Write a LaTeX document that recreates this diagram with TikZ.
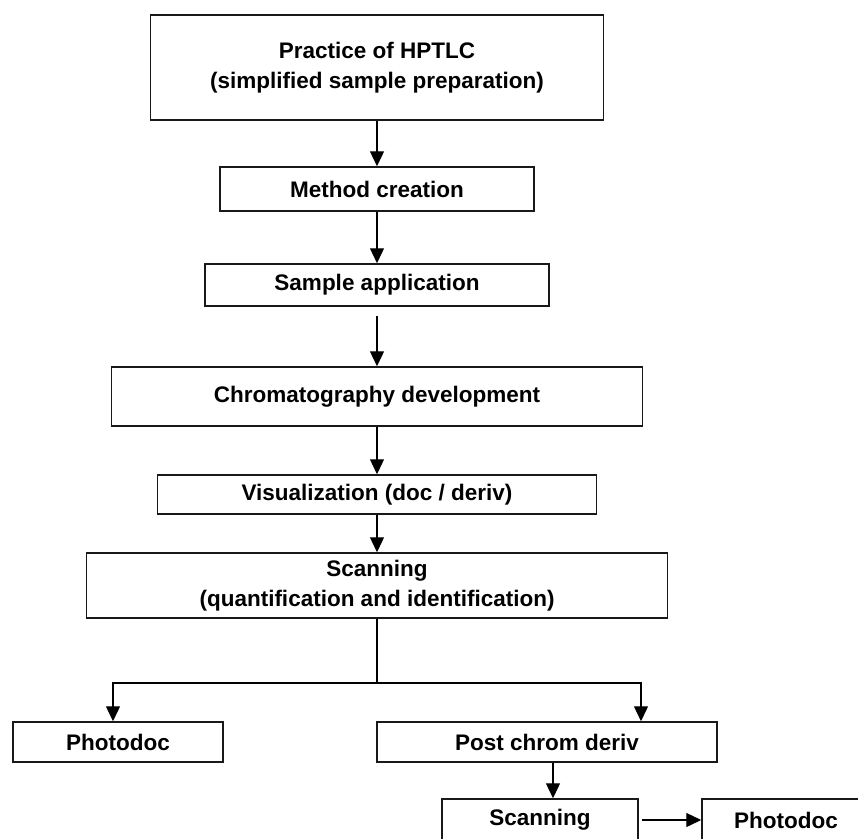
\documentclass[tikz,border=0pt]{standalone}
\usepackage{fontspec}
\setmainfont{Liberation Sans}
\usetikzlibrary{arrows.meta}

\begin{document}
\begin{tikzpicture}[x=1pt,y=-1pt,
  stepbox/.style={draw=black!90,line width=1.5pt,inner sep=0pt,align=center,
    font=\fontsize{22.5}{29.5}\selectfont\bfseries},
  flow/.style={line width=1.3pt,-{Triangle[width=14pt,length=15pt]}}]
\useasboundingbox (0,0) rectangle (858,838);
\clip (0,0) rectangle (858,838);
\node[stepbox,minimum width=453pt,minimum height=105pt] (practice) at (377,67.5) {Practice of HPTLC\\(simplified sample preparation)};
\node[stepbox,minimum width=314pt,minimum height=44pt] (method) at (377,189) {Method creation};
\node[stepbox,minimum width=344pt,minimum height=42pt] (sample) at (377,285) {Sample application};
\node[stepbox,minimum width=531pt,minimum height=59pt] (chrom) at (377,396.5) {Chromatography development};
\node[stepbox,minimum width=439pt,minimum height=39pt] (visual) at (377,494.5) {Visualization (doc / deriv)};
\node[stepbox,minimum width=581pt,minimum height=65pt] (scan) at (377,585.5) {Scanning\\(quantification and identification)};
\node[stepbox,minimum width=210pt,minimum height=40pt] (photoA) at (118,742) {Photodoc};
\node[stepbox,minimum width=340pt,minimum height=40pt] (post) at (547,742) {Post chrom deriv};
\node[stepbox,minimum width=196pt,minimum height=42pt] (scanB) at (540,820) {Scanning};
\node[stepbox,minimum width=168pt,minimum height=42pt] (photoB) at (786,820) {Photodoc};

\coordinate (split) at (377,683);
\coordinate (ldrop) at (113,683);
\coordinate (rdrop) at (641,683);

\draw[flow] (practice.south) -- (method.north);
\draw[flow] (method.south) -- (sample.north);
\draw[flow,shorten <=9pt] (sample.south) -- (chrom.north);
\draw[flow] (chrom.south) -- (visual.north);
\draw[flow] (visual.south) -- (scan.north);
\draw[line width=1.3pt] (scan.south) -- (split);
\draw[flow] (split) -- (ldrop) -- (ldrop |- photoA.north);
\draw[flow] (split) -- (rdrop) -- (rdrop |- post.north);
\draw[flow] ([xshift=6pt]post.south) -- ([xshift=6pt]post.south |- scanB.north);
\draw[flow,shorten <=3pt] (scanB.east) -- (photoB.west);
\end{tikzpicture}
\end{document}
